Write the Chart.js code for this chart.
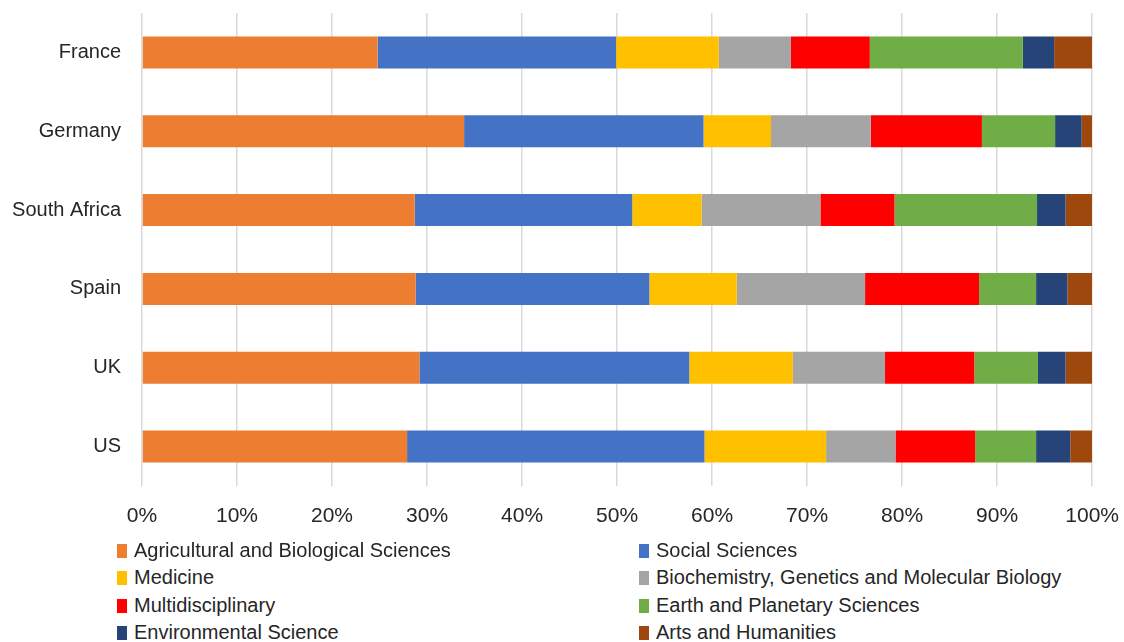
<!DOCTYPE html>
<html>
<head>
<meta charset="utf-8">
<script src="https://cdn.jsdelivr.net/npm/chart.js@4.4.1/dist/chart.umd.min.js"></script>
<style>
  html,body{margin:0;padding:0;background:#fff;overflow:hidden;}
  #wrap{position:relative;width:1124px;height:642px;overflow:hidden;font-family:"Liberation Sans",Arial,sans-serif;color:#262626;}
  #box{position:absolute;left:0;top:-20px;width:1137px;height:560px;}
  .lg{position:absolute;font-size:20px;line-height:22px;white-space:nowrap;transform:translateY(-50%);}
  .lg i{display:inline-block;width:10px;height:14px;margin-right:7px;vertical-align:-1px;}
</style>
</head>
<body>
<div id="wrap">
  <div id="box"><canvas id="chart"></canvas></div>
  <div id="legend"></div>
</div>
<script>
const countries = ['France','Germany','South Africa','Spain','UK','US'];
const fields = ['Agricultural and Biological Sciences','Social Sciences','Medicine','Biochemistry, Genetics and Molecular Biology','Multidisciplinary','Earth and Planetary Sciences','Environmental Science','Arts and Humanities'];
const colors = ['#ED7D31','#4472C4','#FFC000','#A5A5A5','#FF0000','#70AD47','#264478','#9E480E'];

// share per field, in country order
const agri     = [24.8, 33.9, 28.7, 28.8, 29.2, 27.9];
const social   = [25.1, 25.2, 22.9, 24.6, 28.4, 31.3];
const medicine = [10.8,  7.1,  7.3,  9.2, 10.9, 12.8];
const biochem  = [ 7.6, 10.5, 12.5, 13.5,  9.7,  7.3];
const multi    = [ 8.3, 11.7,  7.8, 12.0,  9.4,  8.4];
const earth    = [16.1,  7.7, 15.0,  6.0,  6.7,  6.4];
const environ  = [ 3.3,  2.8,  3.0,  3.3,  2.9,  3.6];
const arts     = [ 4.0,  1.1,  2.8,  2.6,  2.8,  2.3];
const series = [agri, social, medicine, biochem, multi, earth, environ, arts];

const FONT = '"Liberation Sans", Arial, sans-serif';
const TEXT = '#262626';

new Chart(document.getElementById('chart'), {
  type: 'bar',
  data: {
    labels: countries,
    datasets: series.map((d,i)=>({label:fields[i], data:d, backgroundColor:colors[i], borderWidth:0,
      barPercentage:0.405, categoryPercentage:1}))
  },
  options: {
    indexAxis: 'y',
    responsive: true,
    maintainAspectRatio: false,
    animation: false,
    layout: {padding:{top:0, right:20, left:0, bottom:0}},
    plugins: {legend:{display:false}, tooltip:{enabled:false}},
    scales: {
      x: {
        stacked: true, min:0, max:100,
        ticks: {stepSize:10, callback:v=>v+'%', color:TEXT, font:{family:FONT, size:21}, padding:18, maxRotation:0},
        grid: {color:'#d9d9d9', lineWidth:1.5, drawTicks:false},
        border: {display:false},
        afterFit: s => { s.height = 54; }
      },
      y: {
        stacked: true,
        ticks: {color:TEXT, font:{family:FONT, size:20}, padding:21},
        grid: {display:false, drawTicks:false},
        border: {display:false},
        afterFit: s => { s.width = 142; }
      }
    }
  }
});

// two-column legend under the axis
const rowsY = [550, 577, 605, 632];
const colsX = [117, 639];
document.getElementById('legend').innerHTML = fields.map((f,i)=>{
  const x = colsX[i%2], y = rowsY[Math.floor(i/2)];
  return `<div class="lg" style="left:${x}px;top:${y}px"><i style="background:${colors[i]}"></i>${f}</div>`;
}).join('');
</script>
</body>
</html>
